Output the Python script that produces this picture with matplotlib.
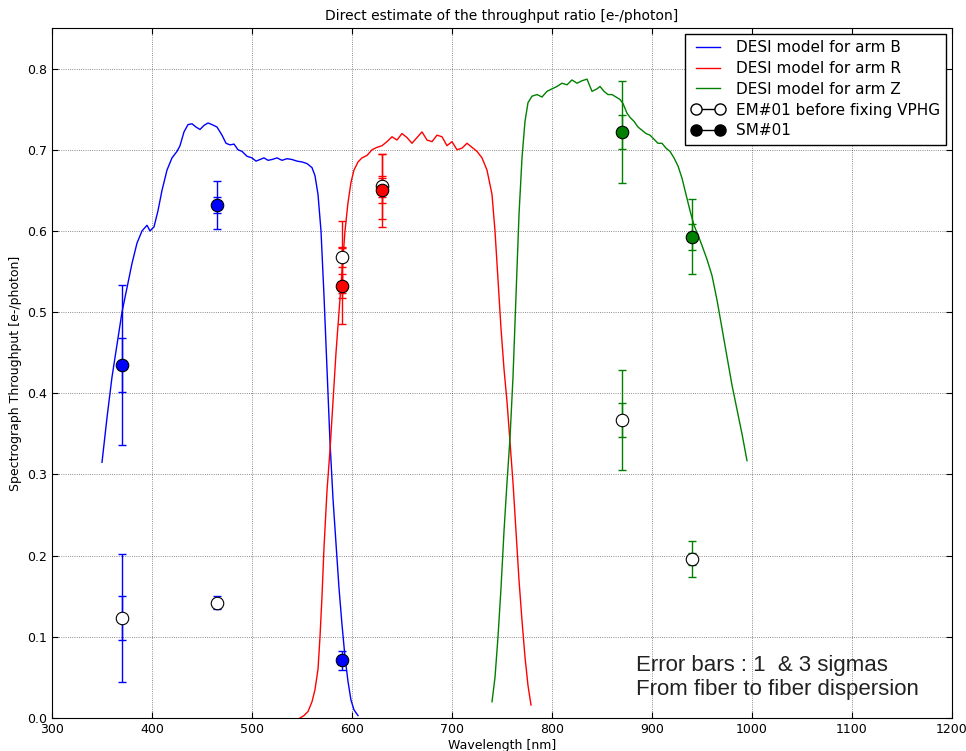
import matplotlib
matplotlib.use("Agg")
import matplotlib.pyplot as plt
from matplotlib.lines import Line2D

# ---- model curves ----
wl_B = [350, 355, 360, 365, 370, 375, 380, 385, 390, 395, 398, 402, 406, 410, 415, 420, 425, 428, 432, 436,
        440, 444, 448, 452, 456, 460, 465, 470, 474, 478, 482, 486, 490, 495, 500, 504, 508, 512, 516, 520,
        525, 530, 535, 540, 545, 550, 555, 560, 563, 566, 569, 572, 575, 578, 581, 584, 587, 590, 593, 596,
        599, 602, 606]
thr_B = [0.315, 0.37, 0.42, 0.46, 0.50, 0.53, 0.56, 0.585, 0.60, 0.607, 0.600, 0.605, 0.625, 0.65, 0.675,
         0.69, 0.698, 0.705, 0.722, 0.731, 0.732, 0.728, 0.725, 0.73, 0.733, 0.731, 0.728, 0.718, 0.708,
         0.706, 0.707, 0.700, 0.698, 0.692, 0.690, 0.686, 0.688, 0.690, 0.687, 0.688, 0.690, 0.687, 0.689,
         0.688, 0.686, 0.685, 0.683, 0.678, 0.668, 0.645, 0.60, 0.52, 0.43, 0.34, 0.27, 0.215, 0.16, 0.115,
         0.075, 0.045, 0.022, 0.01, 0.003]

wl_R = [548, 552, 556, 560, 563, 566, 568, 570, 572, 575, 578, 581, 584, 587, 590, 593, 596, 599, 602, 606,
        610, 615, 620, 625, 630, 635, 640, 645, 650, 655, 660, 665, 670, 675, 680, 685, 690, 695, 700, 705,
        710, 715, 720, 725, 730, 735, 740, 743, 746, 749, 752, 755, 758, 761, 764, 767, 770, 773, 776, 779]
thr_R = [0.0, 0.003, 0.008, 0.02, 0.035, 0.06, 0.10, 0.15, 0.21, 0.28, 0.33, 0.39, 0.45, 0.50, 0.55, 0.60,
         0.635, 0.66, 0.675, 0.685, 0.69, 0.693, 0.70, 0.703, 0.705, 0.71, 0.716, 0.712, 0.72, 0.715, 0.708,
         0.715, 0.722, 0.712, 0.71, 0.718, 0.716, 0.705, 0.71, 0.70, 0.702, 0.708, 0.703, 0.698, 0.69, 0.675,
         0.645, 0.60, 0.54, 0.48, 0.43, 0.39, 0.34, 0.29, 0.23, 0.17, 0.12, 0.075, 0.04, 0.016]

wl_Z = [740, 743, 746, 749, 752, 755, 758, 761, 764, 767, 770, 773, 776, 780, 785, 790, 795, 800, 805, 810,
        815, 820, 825, 830, 835, 840, 845, 848, 852, 856, 860, 864, 868, 871, 875, 878, 882, 886, 890, 894,
        898, 902, 906, 910, 914, 918, 922, 926, 930, 934, 938, 942, 946, 950, 955, 960, 965, 970, 975, 980,
        985, 990, 995]
thr_Z = [0.02, 0.05, 0.10, 0.16, 0.23, 0.29, 0.345, 0.42, 0.52, 0.62, 0.69, 0.735, 0.758, 0.766, 0.768,
         0.765, 0.772, 0.775, 0.778, 0.782, 0.78, 0.786, 0.782, 0.785, 0.787, 0.772, 0.775, 0.778, 0.772,
         0.768, 0.768, 0.765, 0.762, 0.757, 0.745, 0.74, 0.735, 0.728, 0.724, 0.72, 0.718, 0.713, 0.708,
         0.708, 0.702, 0.698, 0.69, 0.68, 0.665, 0.645, 0.625, 0.607, 0.595, 0.582, 0.565, 0.545, 0.515,
         0.48, 0.445, 0.41, 0.38, 0.35, 0.317]

# ---- measurements ----
arm_colors = ["blue", "red", "green"]
# SM#01 (filled)
sm_wl = [[370, 465, 590], [590, 630], [870, 940]]
sm_val = [[0.435, 0.632, 0.071], [0.532, 0.650], [0.722, 0.593]]
sm_err1 = [[0.033, 0.010, 0.004], [0.015, 0.015], [0.021, 0.016]]
sm_err3 = [[0.099, 0.030, 0.012], [0.047, 0.045], [0.063, 0.046]]
# EM#01 before fixing VPHG (open)
em_wl = [[370, 465], [590, 630], [870, 940]]
em_val = [[0.123, 0.142], [0.568, 0.655], [0.367, 0.196]]
em_err1 = [[0.027, 0.003], [0.012, 0.013], [0.021, 0.007]]
em_err3 = [[0.079, 0.008], [0.044, 0.040], [0.062, 0.022]]

xticks = [300, 400, 500, 600, 700, 800, 900, 1000, 1100, 1200]
yticks = [0.0, 0.1, 0.2, 0.3, 0.4, 0.5, 0.6, 0.7, 0.8]

fig = plt.figure(figsize=(9.66, 7.51), dpi=100)
ax = fig.add_axes([52 / 966, 33 / 751, 900 / 966, 690 / 751])

ax.plot(wl_B, thr_B, color="blue", lw=1)
ax.plot(wl_R, thr_R, color="red", lw=1)
ax.plot(wl_Z, thr_Z, color="green", lw=1)

for i, c in enumerate(arm_colors):
    for err in (em_err3[i], em_err1[i]):
        ax.errorbar(em_wl[i], em_val[i], yerr=err, fmt="none", ecolor=c, elinewidth=1,
                    capsize=3, capthick=1, zorder=3)
    ax.plot(em_wl[i], em_val[i], "o", ls="none", mfc="white", mec="black", ms=9, mew=0.8, zorder=4)
    for err in (sm_err3[i], sm_err1[i]):
        ax.errorbar(sm_wl[i], sm_val[i], yerr=err, fmt="none", ecolor=c, elinewidth=1,
                    capsize=3, capthick=1, zorder=3)
    ax.plot(sm_wl[i], sm_val[i], "o", ls="none", mfc=c, mec="black", ms=9, mew=0.8, zorder=5)

ax.set_xlim(300, 1200)
ax.set_ylim(0, 0.85)
ax.set_xticks(xticks)
ax.set_yticks(yticks)
ax.set_yticklabels([f"{v:.1f}" for v in yticks])
ax.tick_params(direction="in", top=True, right=True, labelsize=9, length=4)
ax.grid(True, ls=":", color="black", lw=0.6, alpha=0.6)

ax.set_title("Direct estimate of the throughput ratio [e-/photon]", fontsize=10)
ax.set_xlabel("Wavelength [nm]", fontsize=9, labelpad=2)
ax.set_ylabel("Spectrograph Throughput [e-/photon]", fontsize=9)

ax.text(884, 0.022, "Error bars : 1  & 3 sigmas\nFrom fiber to fiber dispersion",
        fontsize=16, family="Liberation Sans", ha="left", va="bottom",
        linespacing=1.2, color="#222222")

handles = [
    Line2D([], [], color="blue", lw=1),
    Line2D([], [], color="red", lw=1),
    Line2D([], [], color="green", lw=1),
    Line2D([], [], color="black", lw=1, marker="o", mfc="white", mec="black", ms=8),
    Line2D([], [], color="black", lw=1, marker="o", mfc="black", mec="black", ms=8),
]
labels = ["DESI model for arm B", "DESI model for arm R", "DESI model for arm Z",
          "EM#01 before fixing VPHG", "SM#01"]
leg = ax.legend(handles, labels, loc="upper right", numpoints=2, fontsize=11, fancybox=False,
                framealpha=1, edgecolor="black", handlelength=2.2, borderaxespad=0.4,
                labelspacing=0.38, handletextpad=0.7, borderpad=0.4)
leg.get_frame().set_linewidth(1)

fig.savefig("out.png", dpi=100)
